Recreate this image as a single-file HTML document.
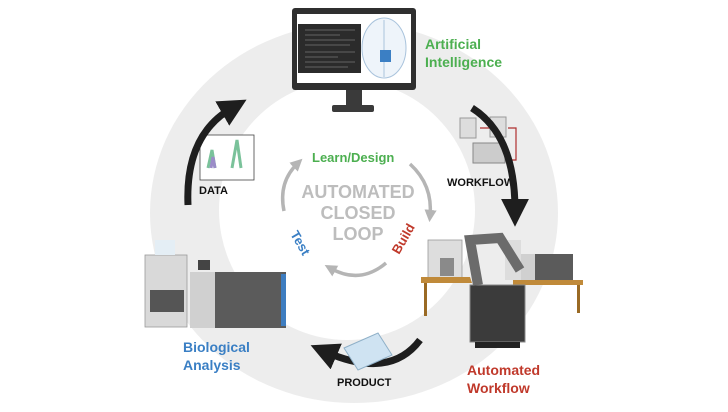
<!DOCTYPE html>
<html><head><meta charset="utf-8"><style>
body{margin:0;background:#fff;width:728px;height:407px;overflow:hidden}
text{font-family:"Liberation Sans",sans-serif;font-weight:bold}
</style></head><body>
<svg width="728" height="407" viewBox="0 0 728 407" xmlns="http://www.w3.org/2000/svg">
<defs>
<marker id="ah" viewBox="0 0 10 10" refX="4" refY="5" markerWidth="4" markerHeight="4" orient="auto"><path d="M0,0 L10,5 L0,10 z" fill="#1e1e1e"/></marker>
<marker id="gh" viewBox="0 0 10 10" refX="5" refY="5" markerWidth="3.5" markerHeight="3.5" orient="auto"><path d="M0,0 L10,5 L0,10 z" fill="#b5b5b5"/></marker>
</defs>
<ellipse cx="354" cy="213" rx="204" ry="190" fill="#ededed"/>
<ellipse cx="347" cy="210" rx="128" ry="130" fill="#fff"/>

<!-- monitor -->
<rect x="292" y="8" width="124" height="82" rx="3" fill="#2f2f2f"/>
<rect x="297" y="14" width="114" height="69" fill="#fff"/>
<rect x="298" y="24" width="63" height="49" fill="#2b2b2b"/>
<g stroke="#777" stroke-width="0.8">
<line x1="305" y1="30" x2="355" y2="30"/><line x1="305" y1="35" x2="340" y2="35"/><line x1="305" y1="40" x2="355" y2="40"/><line x1="305" y1="45" x2="350" y2="45"/><line x1="305" y1="52" x2="355" y2="52"/><line x1="305" y1="57" x2="338" y2="57"/><line x1="305" y1="62" x2="355" y2="62"/><line x1="305" y1="67" x2="348" y2="67"/></g>
<ellipse cx="384" cy="48" rx="22" ry="30" fill="#eef4fa" stroke="#a9c3dc" stroke-width="1"/>
<line x1="384" y1="20" x2="384" y2="77" stroke="#a9c3dc"/>
<rect x="380" y="50" width="11" height="12" fill="#3b7fc4"/>
<rect x="346" y="90" width="16" height="16" fill="#3a3a3a"/>
<rect x="332" y="105" width="42" height="7" rx="2" fill="#3a3a3a"/>
<text x="425" y="49" font-size="14" fill="#4caf50">Artificial</text>
<text x="425" y="67" font-size="14" fill="#4caf50">Intelligence</text>

<!-- workflow -->
<rect x="460" y="118" width="16" height="20" fill="#ddd" stroke="#999"/>
<rect x="490" y="117" width="16" height="20" fill="#ddd" stroke="#999"/>
<rect x="473" y="143" width="32" height="20" fill="#ccc" stroke="#888"/>
<path d="M480 128 H490 M508 128 H516 V160 H507" stroke="#b03030" stroke-width="1.2" fill="none"/>
<text x="447" y="186" font-size="11" fill="#111">WORKFLOW</text>
<path d="M472 108 Q515 135 515 210" stroke="#1e1e1e" stroke-width="7" fill="none" marker-end="url(#ah)"/>

<!-- data -->
<rect x="200" y="135" width="54" height="45" fill="#fff" stroke="#444" stroke-width="0.8"/>
<path d="M208 168 L212 150 L215 168 M232 168 L237 140 L241 168" stroke="#7ac29a" stroke-width="3" fill="none"/>
<path d="M211 168 L213 157 L215 168" stroke="#9b8cc8" stroke-width="3" fill="none"/>
<text x="199" y="194" font-size="11" fill="#111">DATA</text>
<path d="M188 205 Q185 135 232 108" stroke="#1e1e1e" stroke-width="7" fill="none" marker-end="url(#ah)"/>

<!-- bottom arrow -->
<path d="M420 340 Q390 380 326 352" stroke="#1e1e1e" stroke-width="7" fill="none" marker-end="url(#ah)"/>
<path d="M344 348 L378 333 L392 355 L358 370 Z" fill="#cfe3f2" stroke="#8fb0c8"/>
<text x="337" y="386" font-size="11" fill="#111">PRODUCT</text>

<!-- left instruments -->
<rect x="145" y="255" width="42" height="72" fill="#d9d9d9" stroke="#999" stroke-width="0.8"/>
<rect x="150" y="290" width="34" height="22" fill="#555"/>
<rect x="155" y="240" width="20" height="15" fill="#e4eef5"/>
<rect x="190" y="272" width="96" height="56" fill="#5b5b5b"/>
<rect x="190" y="272" width="25" height="56" fill="#d0d0d0"/>
<rect x="281" y="274" width="5" height="52" fill="#3e7dc0"/>
<rect x="198" y="260" width="12" height="10" fill="#444"/>
<text x="183" y="352" font-size="14" fill="#3a7fc4">Biological</text>
<text x="183" y="370" font-size="14" fill="#3a7fc4">Analysis</text>

<!-- right instruments -->
<rect x="428" y="240" width="34" height="40" fill="#ddd" stroke="#999" stroke-width="0.8"/>
<rect x="440" y="258" width="14" height="18" fill="#8a8a8a"/>
<rect x="521" y="254" width="52" height="28" fill="#5b5b5b"/>
<rect x="521" y="254" width="14" height="28" fill="#d0d0d0"/>
<rect x="505" y="240" width="16" height="40" fill="#ddd"/>
<path d="M421 277 H470 L472 283 H421 Z" fill="#c08a3a"/>
<rect x="424" y="283" width="3" height="33" fill="#9a6a24"/>
<rect x="513" y="280" width="70" height="5" fill="#c08a3a"/>
<rect x="577" y="285" width="3" height="28" fill="#9a6a24"/>
<rect x="470" y="285" width="55" height="57" fill="#3b3b3b" stroke="#888" stroke-width="1"/>
<rect x="475" y="342" width="45" height="6" fill="#222"/>
<path d="M478 285 L470 240 L500 238 L520 270" stroke="#6b6b6b" stroke-width="10" fill="none"/>
<text x="467" y="375" font-size="14" fill="#c0392b">Automated</text>
<text x="467" y="393" font-size="14" fill="#c0392b">Workflow</text>

<!-- inner loop -->
<path d="M410 164 Q433 185 430 216" stroke="#b5b5b5" stroke-width="3.5" fill="none" marker-end="url(#gh)"/>
<path d="M386 263 Q360 285 330 268" stroke="#b5b5b5" stroke-width="3.5" fill="none" marker-end="url(#gh)"/>
<path d="M284 211 Q278 182 298 163" stroke="#b5b5b5" stroke-width="3.5" fill="none" marker-end="url(#gh)"/>
<text x="312" y="162" font-size="13" fill="#4caf50">Learn/Design</text>
<text x="358" y="198" font-size="18" fill="#bdbdbd" text-anchor="middle">AUTOMATED</text>
<text x="358" y="219" font-size="18" fill="#bdbdbd" text-anchor="middle">CLOSED</text>
<text x="358" y="240" font-size="18" fill="#bdbdbd" text-anchor="middle">LOOP</text>
<text transform="translate(290,234) rotate(60)" font-size="13" fill="#3a7fc4">Test</text>
<text transform="translate(399,255) rotate(-60)" font-size="13" fill="#c0392b">Build</text>
</svg>
</body></html>
